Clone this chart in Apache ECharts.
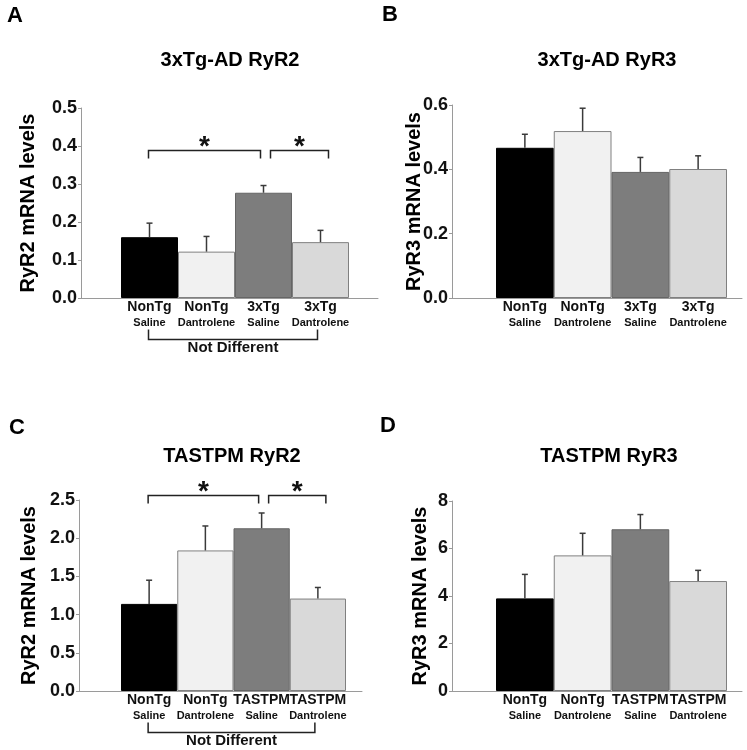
<!DOCTYPE html>
<html>
<head>
<meta charset="utf-8">
<script src="https://cdn.jsdelivr.net/npm/echarts@6/dist/echarts.min.js"></script>
<style>html,body{margin:0;padding:0;background:#fff}#c{width:747px;height:750px}</style>
</head>
<body>
<div id="c"></div>
<script>
// ---- data ----
const groupTop3x = ['NonTg', 'NonTg', '3xTg', '3xTg'];
const groupTopTAS = ['NonTg', 'NonTg', 'TASTPM', 'TASTPM'];
const treatment = ['Saline', 'Dantrolene', 'Saline', 'Dantrolene'];

const meanA = [0.160, 0.122, 0.277, 0.147];
const semA  = [0.037, 0.040, 0.019, 0.031];
const meanB = [0.467, 0.519, 0.392, 0.401];
const semB  = [0.042, 0.071, 0.045, 0.041];
const meanC = [1.14, 1.84, 2.13, 1.21];
const semC  = [0.31, 0.32, 0.20, 0.145];
const meanD = [3.90, 5.71, 6.81, 4.63];
const semD  = [1.01, 0.93, 0.62, 0.45];

const ticksA = [0, 0.1, 0.2, 0.3, 0.4, 0.5];
const ticksB = [0, 0.2, 0.4, 0.6];
const ticksC = [0, 0.5, 1.0, 1.5, 2.0, 2.5];
const ticksD = [0, 2, 4, 6, 8];

const sigPairs = [[0, 2], [2, 3]];   // significant comparisons (*)
const notDiffPair = [[0, 3]];        // "Not Different" bracket

// ---- style / layout ----
const FONT = 'Liberation Sans, Arial, Helvetica, sans-serif';
const fills = ['#000000', '#f1f1f1', '#7d7d7d', '#d9d9d9'];
const borders = ['#000000', '#808080', '#656565', '#808080'];

const panels = [
  {letter:'A', lx:7, ly:5, title:'3xTg-AD RyR2', tx:230, ty:50, yName:'RyR2 mRNA levels', nameGap:43,
   axisX:81, barL:121, barR:349, lineEnd:378, top:108, bottom:298, ticks:ticksA, dec:1,
   groups:groupTop3x, mean:meanA, sem:semA, sig:true, sigY:0.39, notDiff:true},
  {letter:'B', lx:382, ly:4, title:'3xTg-AD RyR3', tx:607, ty:50, yName:'RyR3 mRNA levels', nameGap:28,
   axisX:452, barL:496, barR:727, lineEnd:742, top:105, bottom:298, ticks:ticksB, dec:1,
   groups:groupTop3x, mean:meanB, sem:semB, sig:false, notDiff:false},
  {letter:'C', lx:9, ly:417, title:'TASTPM RyR2', tx:232, ty:446, yName:'RyR2 mRNA levels', nameGap:40,
   axisX:79, barL:121, barR:346, lineEnd:362, top:500, bottom:691, ticks:ticksC, dec:1,
   groups:groupTopTAS, mean:meanC, sem:semC, sig:true, sigY:2.565, notDiff:true},
  {letter:'D', lx:380, ly:415, title:'TASTPM RyR3', tx:609, ty:446, yName:'RyR3 mRNA levels', nameGap:22,
   axisX:452, barL:496, barR:727, lineEnd:742, top:501, bottom:691, ticks:ticksD, dec:0,
   groups:groupTopTAS, mean:meanD, sem:semD, sig:false, notDiff:false}
];
const sigOffsets = [[-1, -3], [7, 8]];

const chart = echarts.init(document.getElementById('c'), null, {renderer:'canvas'});
const option = {
  backgroundColor:'#fff', animation:false,
  title:[], grid:[], xAxis:[], yAxis:[], series:[]
};

panels.forEach((p, k) => {
  const fi = 2*k, bi = 2*k+1;
  const ymin = p.ticks[0], ymax = p.ticks[p.ticks.length-1], yint = p.ticks[1]-p.ticks[0];
  option.title.push({text:p.letter, left:p.lx, top:p.ly, padding:0,
    textStyle:{fontFamily:FONT, fontWeight:'bold', fontSize:22, color:'#000'}});
  option.title.push({text:p.title, left:p.tx, top:p.ty, padding:0, textAlign:'center',
    textStyle:{fontFamily:FONT, fontWeight:'bold', fontSize:20, color:'#000'}});
  const h = p.bottom - p.top;
  option.grid.push({left:p.axisX, top:p.top, width:p.lineEnd - p.axisX, height:h, outerBoundsMode:'none'});
  option.grid.push({left:p.barL, top:p.top, width:p.barR - p.barL, height:h, outerBoundsMode:'none'});
  option.xAxis.push({gridIndex:fi, type:'value', min:0, max:1,
    axisLine:{show:true, onZero:false, lineStyle:{color:'#9a9a9a', width:1}},
    axisTick:{show:false}, axisLabel:{show:false}, splitLine:{show:false}});
  option.yAxis.push({gridIndex:fi, type:'value', min:ymin, max:ymax, interval:yint,
    name:p.yName, nameLocation:'middle', nameRotate:90, nameGap:p.nameGap, nameMoveOverlap:false,
    nameTextStyle:{fontFamily:FONT, fontWeight:'bold', fontSize:20, color:'#000'},
    axisLine:{show:true, lineStyle:{color:'#9a9a9a', width:1}},
    axisTick:{show:true, length:3, lineStyle:{color:'#9a9a9a'}},
    splitLine:{show:false},
    axisLabel:{margin:4, fontFamily:FONT, fontWeight:'bold', fontSize:18, color:'#111',
      formatter:(v)=>Number(v).toFixed(p.dec)}});
  const cats = p.groups.map((g,i)=>g + '\n' + treatment[i]);
  option.xAxis.push({gridIndex:bi, type:'category', data:cats,
    axisLine:{show:false}, axisTick:{show:false}, splitLine:{show:false},
    axisLabel:{margin:1, interval:0,
      formatter:(v)=>{const s=v.split('\n'); return '{t|'+s[0]+'}\n{b|'+s[1]+'}';},
      rich:{t:{fontFamily:FONT, fontWeight:'bold', fontSize:14, lineHeight:16, color:'#111'},
            b:{fontFamily:FONT, fontWeight:'bold', fontSize:11, lineHeight:16, color:'#111'}}}});
  option.yAxis.push({gridIndex:bi, type:'value', min:ymin, max:ymax, show:false});

  option.series.push({type:'bar', xAxisIndex:bi, yAxisIndex:bi, barCategoryGap:'0%',
    data:p.mean.map((v,i)=>({value:v, itemStyle:{color:fills[i], borderColor:borders[i], borderWidth:1}}))});

  option.series.push({type:'custom', xAxisIndex:bi, yAxisIndex:bi, z:5, clip:false,
    encode:{x:0, y:[1,2]},
    data:p.mean.map((v,i)=>[i, v, v + p.sem[i]]),
    renderItem:(params, api)=>{
      const a = api.coord([api.value(0), api.value(1)]);
      const b = api.coord([api.value(0), api.value(2)]);
      return {type:'group', children:[
        {type:'line', shape:{x1:a[0], y1:a[1], x2:b[0], y2:b[1]}, style:{stroke:'#3a3a3a', lineWidth:1.5}},
        {type:'line', shape:{x1:b[0]-3, y1:b[1], x2:b[0]+3, y2:b[1]}, style:{stroke:'#3a3a3a', lineWidth:1.5}}
      ]};
    }});

  if (p.sig) {
    option.series.push({type:'custom', xAxisIndex:bi, yAxisIndex:bi, z:6, clip:false,
      encode:{x:[0,1], y:2},
      data:sigPairs.map(s=>[s[0], s[1], p.sigY]),
      renderItem:(params, api)=>{
        const off = sigOffsets[params.dataIndex];
        const a = api.coord([api.value(0), api.value(2)]);
        const b = api.coord([api.value(1), api.value(2)]);
        const x1 = a[0]+off[0], x2 = b[0]+off[1], y = Math.round(a[1])+0.5;
        return {type:'group', children:[
          {type:'polyline', shape:{points:[[x1,y+8],[x1,y],[x2,y],[x2,y+8]]}, style:{stroke:'#222', lineWidth:1.5, fill:null}},
          {type:'text', style:{text:'*', x:(x1+x2)/2, y:y-3, align:'center', verticalAlign:'middle',
            font:'bold 28px ' + FONT, fill:'#111'}}
        ]};
      }});
  }
  if (p.notDiff) {
    option.series.push({type:'custom', xAxisIndex:bi, yAxisIndex:bi, z:6, clip:false,
      encode:{x:[0,1], y:2},
      data:notDiffPair.map(s=>[s[0], s[1], 0]),
      renderItem:(params, api)=>{
        const a = api.coord([api.value(0), api.value(2)]);
        const b = api.coord([api.value(1), api.value(2)]);
        const x1 = a[0]-1, x2 = b[0]-3, y = Math.round(a[1]) + 41.5;
        return {type:'group', children:[
          {type:'polyline', shape:{points:[[x1,y-10],[x1,y],[x2,y],[x2,y-10]]}, style:{stroke:'#222', lineWidth:1.5, fill:null}},
          {type:'text', style:{text:'Not Different', x:(a[0]+b[0])/2 - 2, y:y+8, align:'center', verticalAlign:'middle',
            font:'bold 15px ' + FONT, fill:'#111'}}
        ]};
      }});
  }
});

chart.setOption(option);
</script>
</body>
</html>
